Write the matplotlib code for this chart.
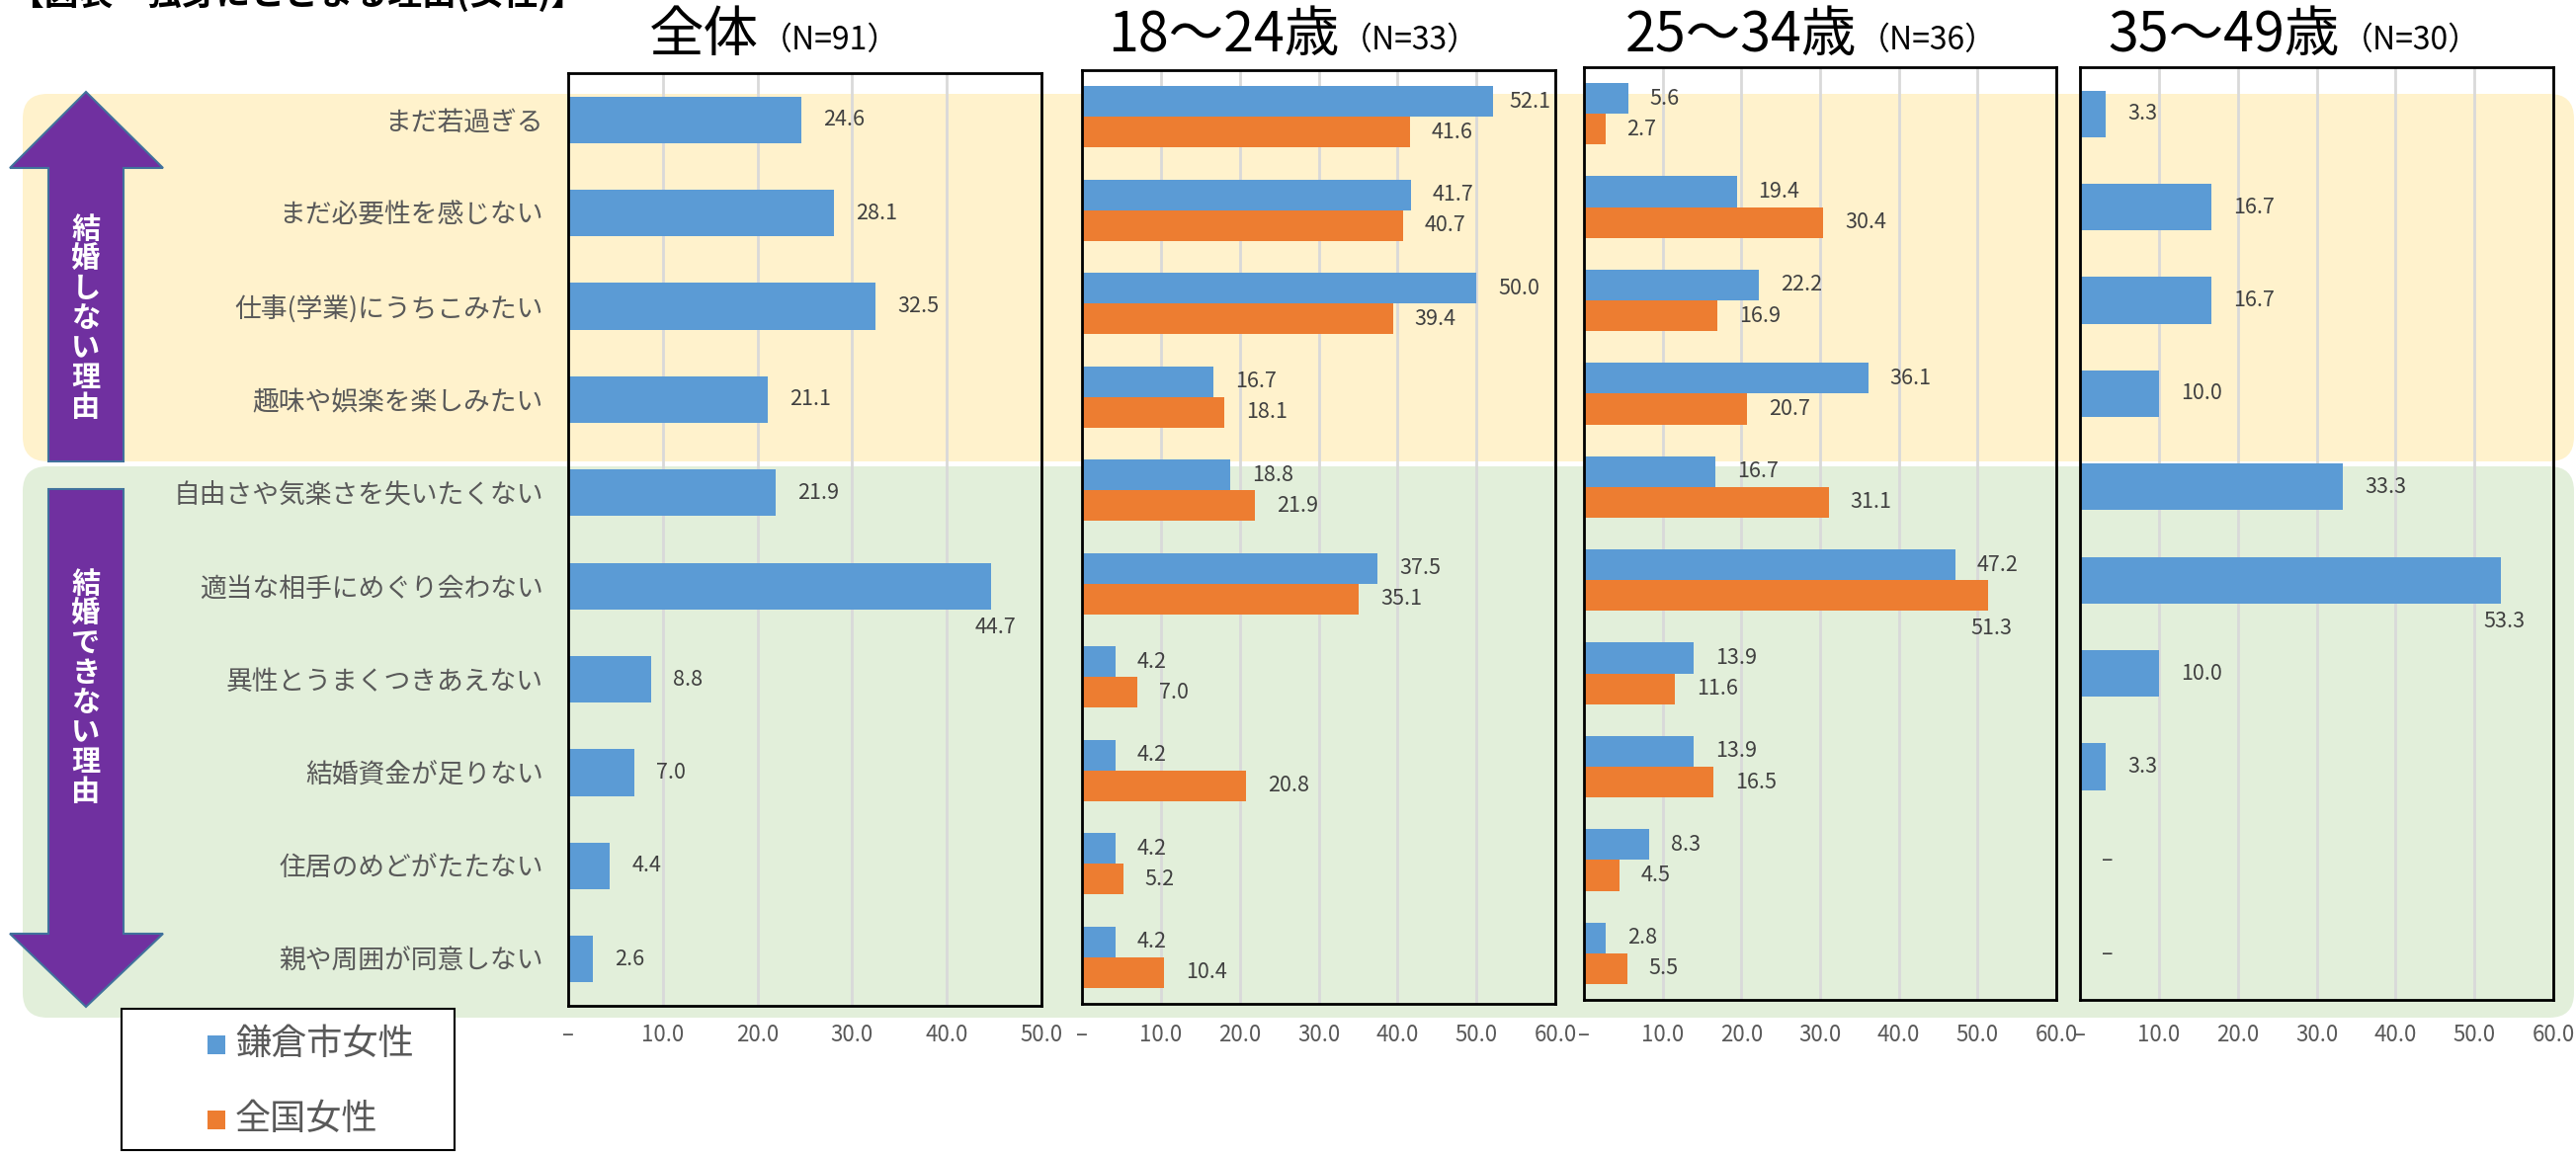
import numpy as np
import matplotlib.pyplot as plt
from matplotlib.patches import FancyBboxPatch, Polygon, Rectangle

plt.rcParams['font.family'] = ['Noto Sans CJK JP', 'DejaVu Sans']

# 結婚しない・できない理由（%）
categories = ['まだ若過ぎる', 'まだ必要性を感じない', '仕事(学業)にうちこみたい',
              '趣味や娯楽を楽しみたい', '自由さや気楽さを失いたくない',
              '適当な相手にめぐり会わない', '異性とうまくつきあえない',
              '結婚資金が足りない', '住居のめどがたたない', '親や周囲が同意しない']
groups = ['全体', '18～24歳', '25～34歳', '35～49歳']
group_n = [91, 33, 36, 30]
series_names = ['鎌倉市女性', '全国女性']

kamakura_all = [24.6, 28.1, 32.5, 21.1, 21.9, 44.7, 8.8, 7.0, 4.4, 2.6]
kamakura_18_24 = [52.1, 41.7, 50.0, 16.7, 18.8, 37.5, 4.2, 4.2, 4.2, 4.2]
national_18_24 = [41.6, 40.7, 39.4, 18.1, 21.9, 35.1, 7.0, 20.8, 5.2, 10.4]
kamakura_25_34 = [5.6, 19.4, 22.2, 36.1, 16.7, 47.2, 13.9, 13.9, 8.3, 2.8]
national_25_34 = [2.7, 30.4, 16.9, 20.7, 31.1, 51.3, 11.6, 16.5, 4.5, 5.5]
kamakura_35_49 = [3.3, 16.7, 16.7, 10.0, 33.3, 53.3, 10.0, 3.3, 0.0, 0.0]
x_max = [50, 60, 60, 60]

panels = [(kamakura_all, None), (kamakura_18_24, national_18_24),
          (kamakura_25_34, national_25_34), (kamakura_35_49, None)]

BLUE = '#5B9BD5'
ORANGE = '#ED7D31'
PURPLE = '#7030A0'
TXT = '#404040'
GRAY = '#595959'

W, H = 2607, 1169
fig = plt.figure(figsize=(W / 100, H / 100), dpi=100)

# pixel-space layer for backgrounds, arrows, titles and legend
bg = fig.add_axes([0, 0, 1, 1], zorder=0)
bg.set_xlim(0, W)
bg.set_ylim(H, 0)
bg.axis('off')

def rounded(x0, y0, x1, y1, color, r=25):
    bg.add_patch(FancyBboxPatch((x0 + r, y0 + r), x1 - x0 - 2 * r, y1 - y0 - 2 * r,
                                boxstyle=f'round,pad={r}', fc=color, ec='none'))

rounded(23, 95, 2605, 467, '#FFF2CC')
rounded(23, 472, 2605, 1030, '#E2EFDA')

# heading, mostly above the top edge
bg.text(10, 12, '【図表　独身にとどまる理由(女性)】', fontsize=25, fontweight='bold',
        ha='left', va='bottom')

# arrows on the left
up = [(87, 93), (165, 170), (125, 170), (125, 467), (49, 467), (49, 170), (10, 170)]
down = [(49, 495), (125, 495), (125, 945), (165, 945), (87, 1019), (10, 945), (49, 945)]
for pts in (up, down):
    bg.add_patch(Polygon(pts, closed=True, fc=PURPLE, ec='#41719C', lw=1.5))

def vertical_text(s, cx, cy, step=30):
    n = len(s)
    for i, ch in enumerate(s):
        bg.text(cx, cy + (i - (n - 1) / 2) * step, ch, color='white', fontsize=21,
                fontweight='bold', ha='center', va='center')

vertical_text('結婚しない理由', 87, 322)
vertical_text('結婚できない理由', 87, 696)

# legend
bg.add_patch(Rectangle((123, 1021), 337, 143, fc='white', ec='black', lw=1.5))
for name, color, yc in zip(series_names, [BLUE, ORANGE], [1057, 1133]):
    bg.add_patch(Rectangle((210, yc - 9.5), 18, 19, fc=color, ec='none'))
    bg.text(238, yc, name, fontsize=26, color=GRAY, ha='left', va='center')

# panel frames in pixels (left, top, right, bottom) and title anchors
boxes = [(575, 74, 1054, 1018), (1095, 71, 1574, 1016),
         (1603, 68, 2081, 1012), (2105, 68, 2584, 1012)]
title_x = [768, 1355, 1879, 2368]
below = {(0, 0, 5), (2, 1, 5), (3, 0, 5)}

rows = np.arange(len(categories))

for p, ((s1, s2), (x0, y0, x1, y1)) in enumerate(zip(panels, boxes)):
    ax = fig.add_axes([x0 / W, 1 - y1 / H, (x1 - x0) / W, (y1 - y0) / H], zorder=1)
    ax.set_facecolor('none')
    xm = x_max[p]
    ax.set_xlim(0, xm)
    ax.set_ylim(len(categories) - 0.5, -0.5)

    if s2 is None:
        series = [(s1, BLUE, rows, 0.5)]
    else:
        series = [(s1, BLUE, rows - 0.165, 0.33), (s2, ORANGE, rows + 0.165, 0.33)]

    ppu = (x1 - x0) / xm
    for si, (vals, color, ys, h) in enumerate(series):
        ax.barh(ys, vals, height=h, color=color, zorder=2)
        for r, (v, y) in enumerate(zip(vals, ys)):
            txt = '–' if v == 0 else f'{v:.1f}'
            if (p, si, r) in below:
                ax.annotate(txt, xy=(v, y + h / 2), xytext=(3, -5),
                            textcoords='offset points', ha='center', va='top',
                            fontsize=15.5, color=TXT)
            else:
                off = min(22, x1 - 47 - (x0 + v * ppu))
                ax.annotate(txt, xy=(v, y), xytext=(off * 0.72, 0),
                            textcoords='offset points', ha='left', va='center',
                            fontsize=15.5, color=TXT)

    ticks = np.arange(0, xm + 1, 10)
    ax.set_xticks(ticks, ['–'] + [f'{t:.1f}' for t in ticks[1:]])
    ax.tick_params(axis='x', length=0, pad=(1036 - y1) * 0.72, labelsize=16,
                   labelcolor=GRAY)
    ax.xaxis.grid(True, color='#D9D9D9', lw=2, zorder=0)
    ax.set_axisbelow(True)

    if p == 0:
        ax.set_yticks(rows, categories)
        ax.tick_params(axis='y', length=0, pad=18, labelsize=19.3, labelcolor=GRAY)
    else:
        ax.set_yticks([])

    for sp in ax.spines.values():
        sp.set_color('black')
        sp.set_linewidth(2)
        sp.set_zorder(3)

    bg.text(title_x[p], 52, groups[p], fontsize=40, ha='right', va='baseline')
    bg.text(title_x[p] + 2, 50, f'（N={group_n[p]}）', fontsize=23,
            ha='left', va='baseline')

fig.savefig('out.png', dpi=100)
